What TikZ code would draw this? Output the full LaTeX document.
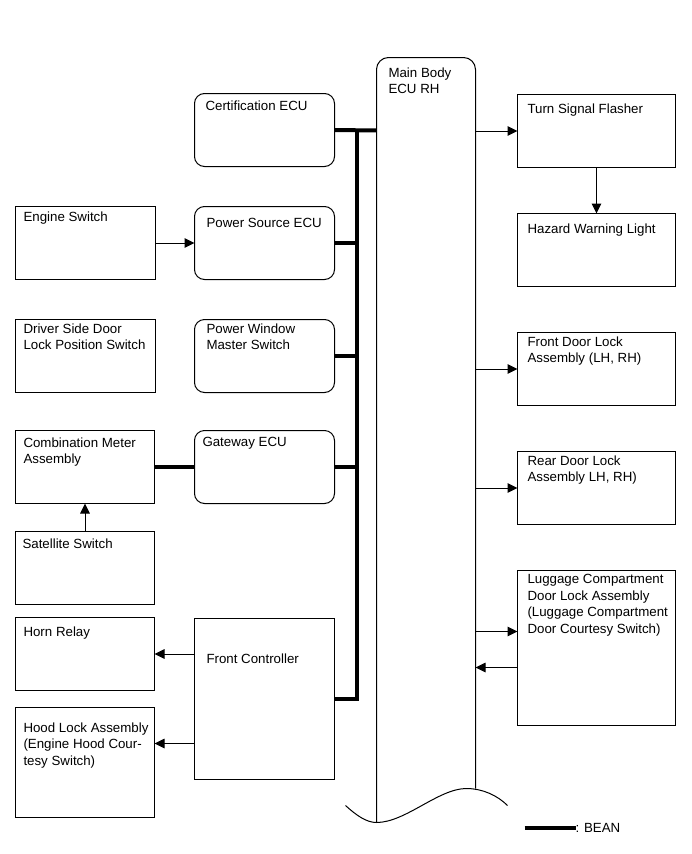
\documentclass[tikz,border=0pt]{standalone}
\usepackage{fontspec}
\setmainfont{Liberation Sans}
\usetikzlibrary{arrows.meta}
\begin{document}
\begin{tikzpicture}[x=1pt,y=-1pt,
  box/.style={draw=black,line width=1pt,inner sep=0pt,outer sep=0pt,anchor=north west},
  rbox/.style={box,rounded corners=10pt},
  txt/.style={inner sep=0pt,outer sep=0pt,anchor=north west,align=left,
    font=\fontsize{13.3}{16.5}\selectfont},
  arr/.style={line width=1pt,-{Triangle[length=10pt,width=9.5pt]}},
  bean/.style={line width=4pt}]
\useasboundingbox (0,0) rectangle (691,854);
\begin{scope}[shift={(0.5,0.5)}]
% middle column (rounded ECUs)
\node[rbox,minimum width=140pt,minimum height=73pt] (cert) at (194,93) {};
\node[rbox,minimum width=140pt,minimum height=73pt] (ps) at (194,206) {};
\node[rbox,minimum width=140pt,minimum height=73pt] (pw) at (194,319) {};
\node[rbox,minimum width=140pt,minimum height=73pt] (gw) at (194,430) {};
\node[box,minimum width=140pt,minimum height=161pt] (fc) at (194,618) {};
% left column
\node[box,minimum width=140pt,minimum height=73pt] (eng) at (15,206) {};
\node[box,minimum width=140pt,minimum height=73pt] (drv) at (15,319) {};
\node[box,minimum width=139pt,minimum height=73pt] (comb) at (15,430) {};
\node[box,minimum width=139pt,minimum height=73pt] (sat) at (15,531) {};
\node[box,minimum width=139pt,minimum height=73pt] (horn) at (15,617) {};
\node[box,minimum width=139pt,minimum height=110pt] (hood) at (15,707) {};
% right column
\node[box,minimum width=158pt,minimum height=73pt] (tsf) at (517,94) {};
\node[box,minimum width=158pt,minimum height=73pt] (haz) at (517,213) {};
\node[box,minimum width=158pt,minimum height=73pt] (fdl) at (517,332) {};
\node[box,minimum width=158pt,minimum height=73pt] (rdl) at (517,451) {};
\node[box,minimum width=158pt,minimum height=155pt] (lug) at (517,570) {};
% main body ECU
\coordinate (mainL) at (376,130);
\coordinate (mainR) at (475,130);
\draw[line width=1pt,rounded corners=12pt] (376,822) -- (376,57) -- (475,57) -- (475,788);
\draw[line width=1pt] (345,805) .. controls (356,815) and (366,822) .. (376,822)
  .. controls (405,822) and (438,788) .. (466,788)
  .. controls (482,788) and (497,795) .. (507,805);
% texts
\node[txt] (certT) at (205,100) {Certification ECU};
\node[txt] (mainT) at (388,67) {Main Body\\ECU RH};
\node[txt] (psT) at (206,218) {Power Source ECU};
\node[txt] (pwT) at (206,323) {Power Window\\Master Switch};
\node[txt] (gwT) at (202,437) {Gateway ECU};
\node[txt] (fcT) at (206,653) {Front Controller};
\node[txt] (engT) at (23,211) {Engine Switch};
\node[txt] (drvT) at (23,323) {Driver Side Door\\Lock Position Switch};
\node[txt] (combT) at (23,437) {Combination Meter\\Assembly};
\node[txt] (satT) at (22,538) {Satellite Switch};
\node[txt] (hornT) at (23,626) {Horn Relay};
\node[txt] (hoodT) at (23,722) {Hood Lock Assembly\\(Engine Hood Cour-\\tesy Switch)};
\node[txt] (tsfT) at (527,103) {Turn Signal Flasher};
\node[txt] (hazT) at (527,223) {Hazard Warning Light};
\node[txt] (fdlT) at (527,336) {Front Door Lock\\Assembly (LH, RH)};
\node[txt] (rdlT) at (527,455) {Rear Door Lock\\Assembly LH, RH)};
\node[txt] (lugT) at (527,574) {Luggage Compartment\\Door Lock Assembly\\(Luggage Compartment\\Door Courtesy Switch)};
% BEAN bus
\coordinate (busTop) at (356,130);
\draw[bean] (cert.east) -- (mainL);
\draw[bean] (fc.east) -| (busTop);
\draw[bean] (ps.east) -- (ps.east -| busTop);
\draw[bean] (pw.east) -- (pw.east -| busTop);
\draw[bean] (gw.east) -- (gw.east -| busTop);
\draw[bean] (gw.west) -- (comb.east);
% arrows
\draw[arr] (eng.east) -- (ps.west);
\draw[arr] (sat.north) -- (comb.south);
\draw[arr] (fc.west |- horn.east) -- (horn.east);
\coordinate (hoodIn) at (154,743);
\draw[arr] (fc.west |- hoodIn) -- (hoodIn);
\draw[arr] (mainR |- tsf.west) -- (tsf.west);
\draw[arr] (tsf.south -| 596,0) -- (haz.north -| 596,0);
\draw[arr] (mainR |- fdl.west) -- (fdl.west);
\draw[arr] (mainR |- rdl.west) -- (rdl.west);
\coordinate (lugIn) at (517,631);
\coordinate (lugOut) at (517,667);
\draw[arr] (mainR |- lugIn) -- (lugIn);
\draw[arr] (lugOut) -- (mainR |- lugOut);
% legend
\coordinate (legA) at (524,827);
\node[txt,anchor=west] (legT) at (575,827) {: BEAN};
\draw[bean] (legA) -- (legT.west);
\end{scope}
\end{tikzpicture}
\end{document}
